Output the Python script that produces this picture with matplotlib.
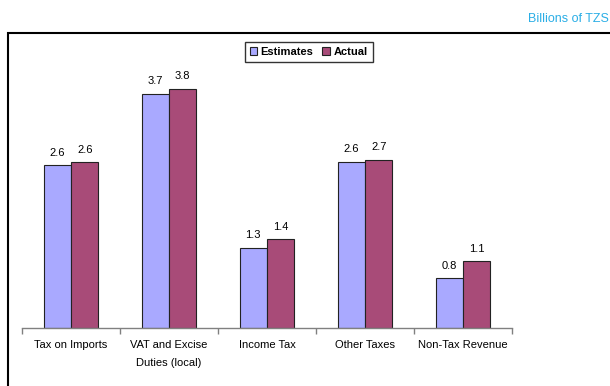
import matplotlib.pyplot as plt
import matplotlib.patches as mpatches
import numpy as np

plt.rcParams['font.family'] = ['Liberation Sans', 'DejaVu Sans']

categories = ["Tax on Imports", "VAT and Excise\nDuties (local)", "Income Tax",
              "Other Taxes", "Non-Tax Revenue"]
estimates = [2.58, 3.72, 1.27, 2.64, 0.79]
actual = [2.63, 3.80, 1.41, 2.67, 1.06]
series_names = ["Estimates", "Actual"]

est_color = "#A9A9FF"
act_color = "#A84B78"

fig = plt.figure(figsize=(6.10, 3.86), dpi=100)
ax = fig.add_axes([22 / 610, 1 - 328 / 386, 490 / 610, 295 / 386])

x = np.arange(len(categories))
w = 0.28
b1 = ax.bar(x - w / 2, estimates, w, color=est_color, edgecolor="#222222", linewidth=0.8,
            label=series_names[0])
b2 = ax.bar(x + w / 2, actual, w, color=act_color, edgecolor="#222222", linewidth=0.8,
            label=series_names[1])

for bars, vals in ((b1, estimates), (b2, actual)):
    for r, v in zip(bars, vals):
        ax.text(r.get_x() + r.get_width() / 2, v + 0.12, f"{v:.1f}",
                ha="center", va="bottom", fontsize=8)

ax.set_xlim(-0.5, len(categories) - 0.5)
ax.set_ylim(0, 295 / 63)
ax.set_yticks([])
for s in ("top", "right", "left"):
    ax.spines[s].set_visible(False)
ax.spines["bottom"].set_color("#808080")
ax.spines["bottom"].set_linewidth(1.0)

# category ticks sit between the groups
ax.set_xticks(np.arange(-0.5, len(categories), 1.0))
ax.set_xticklabels([])
ax.tick_params(axis="x", direction="out", length=4, color="#808080", width=1)
for i, c in enumerate(categories):
    ax.text(i, -0.19, c, ha="center", va="top", fontsize=8, linespacing=1.95)

leg = ax.legend(loc="upper center", bbox_to_anchor=(0.585, 0.99), ncol=2,
                frameon=True, fancybox=False, handlelength=0.7,
                handleheight=0.7, handletextpad=0.3, columnspacing=0.8,
                borderpad=0.45, prop={"weight": "bold", "size": 8})
leg.get_frame().set_edgecolor("black")
leg.get_frame().set_linewidth(1.0)

# outer chart frame, running off the right and bottom edges
frame = mpatches.Rectangle((8 / 610, -0.1), 1.2, 1 - 33 / 386 + 0.1,
                           transform=fig.transFigure, fill=False,
                           edgecolor="black", linewidth=1.5, clip_on=False)
fig.patches.append(frame)

fig.text(609 / 610, 1 - 19 / 386, "Billions of TZS", ha="right", va="center",
         fontsize=9, color="#2AAEE6")

fig.savefig("out.png", dpi=100)
